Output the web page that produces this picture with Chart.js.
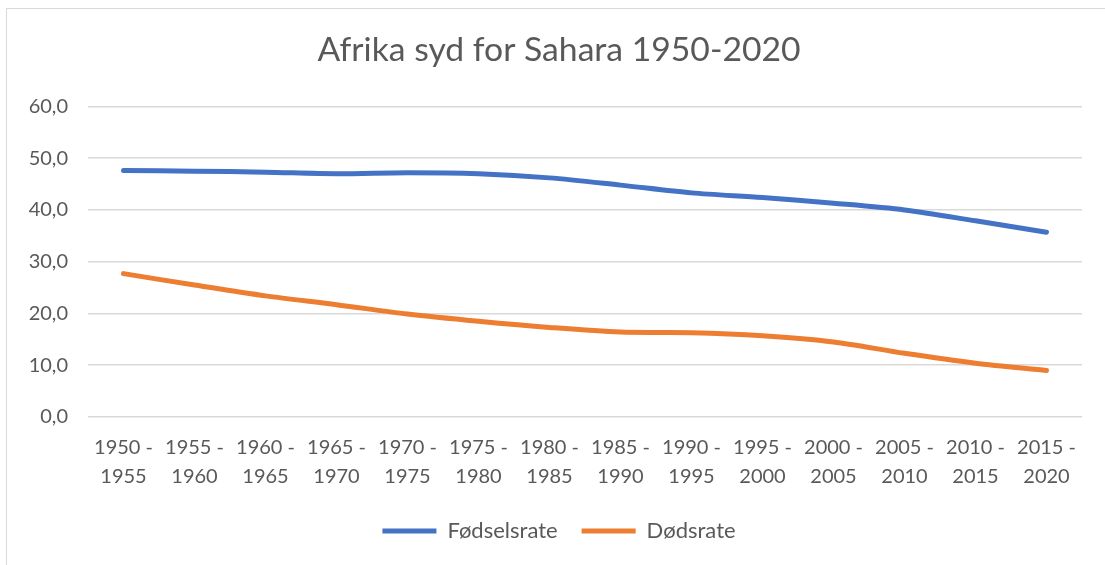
<!DOCTYPE html>
<html>
<head>
<meta charset="utf-8">
<script src="https://cdn.jsdelivr.net/npm/chart.js@4"></script>
<style>
  html, body { margin: 0; padding: 0; background: #fff; }
  #wrap { position: relative; width: 1105px; height: 565px; }
  #frame { position: absolute; left: 6px; top: 8px; width: 1200px; height: 700px;
           border-left: 1px solid #d9d9d9; border-top: 1px solid #d9d9d9; }
  #c { position: absolute; left: 0; top: 0; }
</style>
</head>
<body>
<div id="wrap">
  <div id="frame"></div>
  <canvas id="c" width="1105" height="565"></canvas>
</div>
<script>
// perioder (x-akse)
const perioder = [
  ['1950 -', '1955'], ['1955 -', '1960'], ['1960 -', '1965'], ['1965 -', '1970'],
  ['1970 -', '1975'], ['1975 -', '1980'], ['1980 -', '1985'], ['1985 -', '1990'],
  ['1990 -', '1995'], ['1995 -', '2000'], ['2000 -', '2005'], ['2005 -', '2010'],
  ['2010 -', '2015'], ['2015 -', '2020']
];

// fødselsrate og dødsrate per 1000
const fodselsrate = [47.6, 47.5, 47.3, 47.0, 47.2, 47.0, 46.2, 44.8, 43.3, 42.4, 41.3, 40.0, 37.9, 35.7];
const dodsrate    = [27.7, 25.5, 23.4, 21.7, 19.9, 18.5, 17.3, 16.4, 16.3, 15.7, 14.5, 12.3, 10.4, 9.0];

const yMin = 0, yMax = 60, yStep = 10;

const tekstFarge = '#595959';
const fontFamily = 'Lato, "Open Sans", sans-serif';

new Chart(document.getElementById('c').getContext('2d'), {
  type: 'line',
  data: {
    labels: perioder,
    datasets: [
      {
        label: 'Fødselsrate',
        data: fodselsrate,
        borderColor: '#4472C4',
        backgroundColor: '#4472C4',
        borderWidth: 5,
        borderCapStyle: 'round',
        borderJoinStyle: 'round',
        pointRadius: 0,
        tension: 0.3,
        fill: false
      },
      {
        label: 'Dødsrate',
        data: dodsrate,
        borderColor: '#ED7D31',
        backgroundColor: '#ED7D31',
        borderWidth: 5,
        borderCapStyle: 'round',
        borderJoinStyle: 'round',
        pointRadius: 0,
        tension: 0.3,
        fill: false
      }
    ]
  },
  options: {
    responsive: false,
    animation: false,
    layout: { padding: { left: 36, right: 23, top: 0, bottom: 13 } },
    plugins: {
      title: {
        display: true,
        text: 'Afrika syd for Sahara 1950-2020',
        color: tekstFarge,
        font: { family: fontFamily, size: 33.7, weight: 'normal' },
        padding: { top: 30, bottom: 36 }
      },
      legend: {
        display: true,
        position: 'bottom',
        labels: {
          color: tekstFarge,
          font: { family: fontFamily, size: 22 },
          usePointStyle: true,
          pointStyle: 'line',
          pointStyleWidth: 54,
          boxWidth: 54,
          boxHeight: 10,
          padding: 24
        }
      },
      tooltip: { enabled: false }
    },
    scales: {
      x: {
        offset: true,
        grid: { display: false, drawTicks: false },
        border: { display: false },
        ticks: {
          color: tekstFarge,
          font: { family: fontFamily, size: 20, lineHeight: 1.45 },
          padding: 16,
          maxRotation: 0,
          autoSkip: false
        },
        afterFit: (scale) => { scale.height = 79; }
      },
      y: {
        min: yMin,
        max: yMax,
        grid: { color: '#d9d9d9', lineWidth: 1.5, drawTicks: false },
        border: { display: false },
        ticks: {
          stepSize: yStep,
          color: tekstFarge,
          font: { family: fontFamily, size: 20 },
          padding: 20,
          callback: (v) => v.toFixed(1).replace('.', ',')
        },
        afterFit: (scale) => {
          scale.width = 52;
          // tallene skal kunne stå utenfor aksens boks
          scale._computeLabelArea = () => undefined;
        }
      }
    }
  }
});
</script>
</body>
</html>
